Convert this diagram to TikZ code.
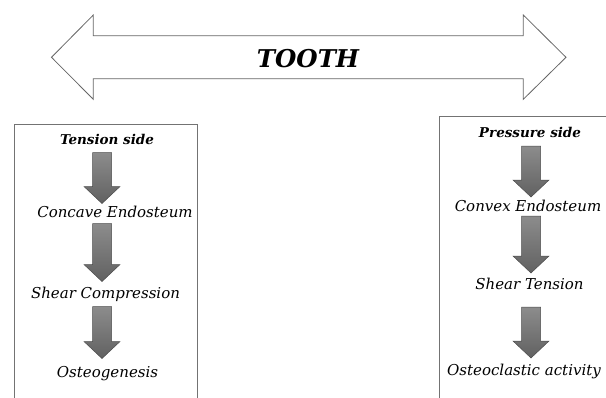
\documentclass[tikz,border=0pt]{standalone}
\usepackage{fontspec}
\setmainfont{DejaVu Serif}
\usetikzlibrary{calc}
\tikzset{
  bigarrow/.style={draw=black!60, line width=0.8pt, fill=white, line join=miter},
  framebox/.style={draw=black!55, line width=0.9pt},
  blockarrow/.style={draw=black!70, line width=0.5pt, top color=black!45, bottom color=black!62},
  steptext/.style={anchor=base, inner sep=0pt, font=\fontsize{15}{18}\selectfont\itshape},
  headtext/.style={anchor=base, inner sep=0pt, font=\fontsize{13.5}{16}\selectfont\bfseries\itshape},
  titletext/.style={anchor=base, inner sep=0pt, font=\fontsize{24.5}{28}\selectfont\bfseries\itshape},
}
% #1 start coordinate, #2 tip coordinate
\newcommand\blockarr[2]{%
  \path[blockarrow] let \p1=(#1), \p2=(#2) in
    (\x1-9.5pt,\y1) -- (\x1+9.5pt,\y1) -- (\x1+9.5pt,\y2+17pt) -- (\x1+18pt,\y2+17pt)
    -- (\x1,\y2) -- (\x1-18pt,\y2+17pt) -- (\x1-9.5pt,\y2+17pt) -- cycle;}
\begin{document}
\begin{tikzpicture}[x=1pt,y=-1pt]
\useasboundingbox (0,0) rectangle (606,397);
\fill[white] (0,0) rectangle (606,397);
% double arrow
\path[bigarrow] (51.5,57.3) -- (93.3,15) -- (93.3,35.7) -- (523.3,35.7) -- (523.3,15)
  -- (566,57.3) -- (523.3,99.3) -- (523.3,78.7) -- (93.3,78.7) -- (93.3,99.3) -- cycle;
\node[titletext] (tooth) at (308,67) {TOOTH};
% frames
\draw[framebox] (14,400) -- (14,124) -- (197,124) -- (197,400);
\draw[framebox] (610,116) -- (439,116) -- (439,400);
% left column
\node[headtext] (tens) at (107,144) {Tension side};
\node[steptext] (conc) at (115,217) {Concave Endosteum};
\node[steptext] (shc) at (105.5,298) {Shear Compression};
\node[steptext] (ogen) at (107.5,377) {Osteogenesis};
\coordinate (l1s) at (102,152.5); \coordinate (l1e) at (102,203.5);
\coordinate (l2s) at (102,223.5); \coordinate (l2e) at (102,281.5);
\coordinate (l3s) at (102,306.5); \coordinate (l3e) at (102,358.5);
\blockarr{l1s}{l1e}
\blockarr{l2s}{l2e}
\blockarr{l3s}{l3e}
% right column
\node[headtext] (press) at (530,137) {Pressure side};
\node[steptext] (conv) at (528,211) {Convex Endosteum};
\node[steptext] (sht) at (529.5,289) {Shear Tension};
\node[steptext] (ocl) at (524,375) {Osteoclastic activity};
\coordinate (r1s) at (531,146); \coordinate (r1e) at (531,197);
\coordinate (r2s) at (531,216); \coordinate (r2e) at (531,273);
\coordinate (r3s) at (531,307); \coordinate (r3e) at (531,358);
\blockarr{r1s}{r1e}
\blockarr{r2s}{r2e}
\blockarr{r3s}{r3e}
\end{tikzpicture}
\end{document}
